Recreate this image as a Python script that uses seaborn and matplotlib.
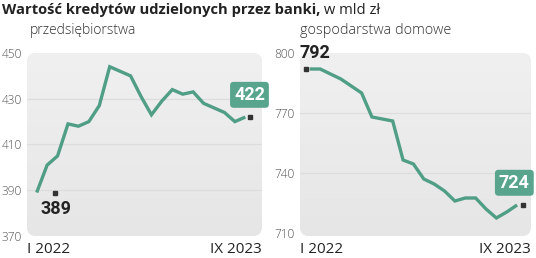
import matplotlib
matplotlib.use("Agg")
import matplotlib.pyplot as plt
import matplotlib.transforms as mtransforms
from matplotlib.patches import FancyBboxPatch
import numpy as np
import pandas as pd
import seaborn as sns

# ---- data ----
months = list(range(21))  # I 2022 .. IX 2023
firms = [389, 401, 405, 419, 418, 420, 427, 444, 442, 440, 431, 423, 429, 434,
         432, 433, 428, 426, 424, 420, 422]
households = [792, 792, 789.5, 787, 783.5, 780, 768, 767, 766, 746.5, 744.5, 737,
              734.5, 731, 726, 727.5, 727.5, 722, 717.5, 720.5, 724]
x_labels = ["I 2022", "IX 2023"]
firm_ticks = [370, 390, 410, 430, 450]
house_ticks = [710, 740, 770, 800]
title_bold = "Wartość kredytów udzielonych przez banki,"
title_rest = " w mld zł"
sub_left = "przedsiębiorstwa"
sub_right = "gospodarstwa domowe"

sns.set_theme(style="white")
plt.rcParams['font.family'] = ['Open Sans', 'DejaVu Sans']

W, H = 536, 258
fig = plt.figure(figsize=(W / 100, H / 100), dpi=100)
fig.patch.set_facecolor("white")

GREEN = "#4f9e85"
BOX = "#58a48c"
DARK = "#222222"
GRAY = "#555555"
NUM_FONT = ['Roboto', 'DejaVu Sans']


def ax_rect(x0, x1, y_top, y_bot):
    return [x0 / W, 1 - y_bot / H, (x1 - x0) / W, (y_bot - y_top) / H]


def panel(rect, xlim, ylim, ticks, series):
    ax = fig.add_axes(rect)
    ax.set_xlim(*xlim)
    ax.set_ylim(*ylim)
    ax.patch.set_alpha(0)
    for s in ax.spines.values():
        s.set_visible(False)
    bg = FancyBboxPatch((0, 0), 1, 1, boxstyle="round,pad=0,rounding_size=0.04",
                        transform=ax.transAxes, fc="#ebebeb", ec="none",
                        zorder=0, mutation_aspect=235 / 183)
    ax.add_patch(bg)
    grad = np.linspace(1, 0, 100).reshape(-1, 1)
    im = ax.imshow(grad, extent=[0, 1, 0, 1], transform=ax.transAxes,
                   cmap=matplotlib.colors.LinearSegmentedColormap.from_list(
                       "g", ["#e6e6e6", "#f0f0f0"]), aspect="auto", zorder=0.5)
    im.set_clip_path(bg)
    for t in ticks[1:-1]:
        ax.axhline(t, color="#dddddd", lw=0.9, zorder=1)
    ax.set_yticks(ticks)
    ax.set_yticklabels([str(t) for t in ticks])
    ax.tick_params(axis="y", length=0, pad=3.6, labelsize=8.6, labelcolor=GRAY)
    for lab in ax.get_yticklabels():
        lab.set_fontweight("light")
    ax.set_xticks([])
    df = pd.DataFrame({"m": months, "v": series})
    sns.lineplot(data=df, x="m", y="v", ax=ax, color=GREEN, lw=2.4,
                 zorder=3, solid_joinstyle="miter", solid_capstyle="butt")
    ax.set_xlabel("")
    ax.set_ylabel("")
    ax.text(0, -0.075, x_labels[0], transform=ax.transAxes, ha="left", va="center",
            fontsize=11, color=DARK)
    ax.text(1.0, -0.075, x_labels[1], transform=ax.transAxes, ha="right", va="center",
            fontsize=11, color=DARK)
    return ax


def marker(ax, x, y, dx_px):
    tr = mtransforms.offset_copy(ax.transData, fig=fig, x=dx_px, y=0, units="dots")
    ax.plot([x], [y], marker="s", ms=2.4, color="#333333", transform=tr, zorder=5,
            clip_on=False)


# left panel
axL = panel(ax_rect(27, 262, 53, 236), (-0.93, 21.6), (370, 450), firm_ticks, firms)
marker(axL, months[0], firms[0], 18)
axL.annotate(str(firms[0]), (months[0], firms[0]), xytext=(13.5, -12),
             textcoords="offset points", ha="center", va="center", fontsize=13,
             fontweight="bold", color=DARK, family=NUM_FONT, zorder=6)
marker(axL, months[-1], firms[-1], 5)
axL.annotate(str(firms[-1]), (months[-1], firms[-1]), xytext=(3, 16),
             textcoords="offset points", ha="center", va="center", fontsize=13,
             fontweight="bold", color="white", family=NUM_FONT, zorder=6,
             annotation_clip=False,
             bbox=dict(boxstyle="round,pad=0.22,rounding_size=0.2", fc=BOX, ec="none"))

# right panel
axR = panel(ax_rect(300, 531, 53, 236), (-0.94, 21.34), (708.5, 800), house_ticks, households)
marker(axR, months[0], households[0], -4)
axR.annotate(str(households[0]), (months[0], households[0]), xytext=(4, 11.5),
             textcoords="offset points", ha="center", va="center", fontsize=13,
             fontweight="bold", color=DARK, family=NUM_FONT, zorder=6,
             annotation_clip=False)
marker(axR, months[-1], households[-1], 6)
axR.annotate(str(households[-1]), (months[-1], households[-1]), xytext=(-2, 16),
             textcoords="offset points", ha="center", va="center", fontsize=13,
             fontweight="bold", color="white", family=NUM_FONT, zorder=6,
             annotation_clip=False,
             bbox=dict(boxstyle="round,pad=0.22,rounding_size=0.2", fc=BOX, ec="none"))

# titles
t1 = fig.text(2 / W, 1 - 10 / H, title_bold, ha="left", va="center", fontsize=10.6,
              fontweight="bold", color=DARK)
fig.canvas.draw()
bb = t1.get_window_extent(fig.canvas.get_renderer())
fig.text(bb.x1 / W, 1 - 10 / H, title_rest, ha="left", va="center", fontsize=10.6,
         color=DARK)
fig.text(30 / W, 1 - 31 / H, sub_left, ha="left", va="center", fontsize=10,
         color="#333333", fontweight="light")
fig.text(300 / W, 1 - 31 / H, sub_right, ha="left", va="center", fontsize=10.4,
         color="#333333", fontweight="light")

fig.savefig("out.png", dpi=100)
